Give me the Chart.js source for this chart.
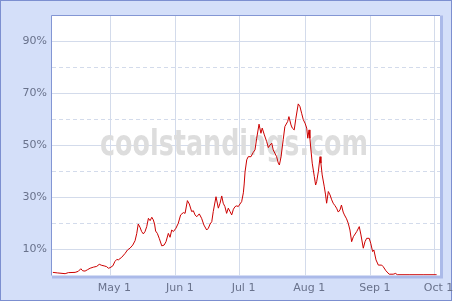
<!DOCTYPE html>
<html lang="en">
<head>
<meta charset="UTF-8">
<title>Playoff odds</title>
<script src="https://cdn.jsdelivr.net/npm/chart.js"></script>
<style>
  body { margin: 0; background: #fff; }
</style>
</head>
<body>
<canvas id="chart" width="454" height="304"></canvas>
<script>
  // days counted from Apr 1, odds in percent
  const days = [2.9, 5.0, 8.7, 10.2, 13.4, 14.9, 16.1, 17.0, 18.1, 19.2, 20.5, 22.0, 23.6, 24.8, 26.0, 27.1, 28.3, 29.1, 29.9, 31.2,
    32.2, 33.1, 33.8, 35.4, 37.0, 38.1, 39.3, 40.6, 41.7, 42.5, 43.2, 44.0, 44.8, 45.6, 46.4, 47.2, 48.0, 48.8, 49.6, 50.3,
    50.9, 51.4, 52.2, 53.1, 54.3, 55.4, 56.3, 57.4, 58.2, 59.0, 59.8, 61.0, 62.1, 63.2, 64.5, 65.3, 66.4, 67.3, 68.4, 69.2,
    70.0, 70.8, 72.0, 73.1, 74.2, 75.5, 76.3, 77.1, 77.9, 78.6, 79.9, 81.0, 81.8, 82.6, 83.3, 84.1, 84.9, 85.7, 86.5, 87.3,
    88.1, 88.9, 89.7, 90.4, 91.2, 92.0, 92.8, 93.2, 93.6, 94.4, 95.1, 96.4, 97.5, 98.3, 99.1, 100.2, 101.1, 101.7, 102.7, 103.8,
    104.6, 105.4, 106.2, 106.9, 107.7, 108.5, 109.3, 109.8, 110.6, 111.6, 112.4, 113.7, 114.3, 115.3, 115.9, 116.8, 117.6, 118.7, 119.5, 120.3,
    121.1, 121.9, 122.7, 123.2, 123.8, 124.2, 124.7, 125.3, 126.3, 126.9, 127.4, 128.2, 129.0, 129.4, 130.0, 131.0, 131.6, 132.1, 132.9, 133.7,
    134.5, 135.2, 136.0, 136.8, 137.6, 138.4, 139.1, 139.9, 140.5, 141.5, 142.3, 143.1, 143.9, 144.7, 146.3, 147.5, 148.3, 149.4, 150.2, 151.0,
    152.2, 152.9, 153.8, 154.4, 155.4, 156.5, 158.1, 158.8, 160.1, 161.6, 163.5, 164.7, 165.4, 171.4, 178.0, 184.0];
  const odds = [1.2, 1.0, 0.7, 1.1, 1.2, 1.6, 2.6, 1.8, 1.7, 2.2, 2.8, 3.2, 3.5, 4.3, 3.9, 3.7, 3.4, 2.8, 3.0, 3.7,
    5.4, 6.2, 6.0, 7.0, 8.5, 9.8, 10.5, 11.7, 13.4, 16.2, 19.8, 18.6, 16.9, 16.0, 16.9, 18.8, 22.0, 21.1, 22.4, 21.4,
    19.8, 17.1, 16.2, 14.3, 11.4, 11.7, 13.0, 16.2, 14.7, 17.5, 16.9, 18.2, 20.1, 23.3, 24.2, 23.9, 28.8, 27.5, 24.6, 24.9,
    23.3, 22.6, 23.7, 22.0, 19.4, 17.5, 18.2, 19.8, 20.7, 24.6, 30.3, 25.9, 27.8, 30.6, 27.8, 26.5, 23.9, 25.9, 24.6, 23.3,
    25.5, 26.5, 26.8, 26.5, 27.5, 28.4, 31.8, 35.2, 39.8, 44.5, 45.7, 45.7, 47.4, 48.3, 52.8, 58.2, 54.7, 56.7, 54.1, 51.5,
    49.2, 50.2, 50.9, 48.3, 47.0, 45.7, 43.2, 42.5, 45.7, 52.2, 57.3, 59.2, 61.1, 57.9, 56.7, 56.0, 60.5, 66.0, 65.0, 62.4,
    59.9, 58.6, 56.7, 52.8, 56.0, 52.8, 48.3, 43.2, 38.0, 34.8, 36.1, 40.0, 45.7, 43.2, 38.7, 34.1, 31.0, 27.8, 32.3, 31.0,
    29.1, 27.8, 26.9, 25.9, 24.4, 25.2, 27.1, 24.4, 23.3, 21.8, 20.1, 17.5, 13.0, 14.9, 16.9, 18.8, 15.6, 10.5, 13.0, 14.3,
    14.3, 12.4, 9.2, 9.8, 6.0, 4.0, 4.0, 3.4, 1.8, 0.5, 0.5, 0.8, 0.3, 0.3, 0.3, 0.3];

  const monthDays = [30, 61, 91, 122, 153, 183];
  const monthLabels = ['May 1', 'Jun 1', 'Jul 1', 'Aug 1', 'Sep 1', 'Oct 1'];
  const xMin = 2.5, xMax = 185.6;

  const gridColor = '#d3dbeb';
  const labelColor = '#69728c';

  const frame = {
    id: 'frame',
    beforeDraw(chart) {
      const ctx = chart.ctx, a = chart.chartArea;
      ctx.save();
      ctx.fillStyle = '#fff';
      ctx.fillRect(0, 0, chart.width, chart.height);
      ctx.fillStyle = '#d4dff9';
      ctx.fillRect(0, 0, 452, 301);
      ctx.strokeStyle = '#7c8fd0';
      ctx.lineWidth = 1;
      ctx.strokeRect(0.5, 0.5, 451, 300);
      // shadow on right / bottom
      ctx.fillStyle = '#abbae9';
      ctx.fillRect(a.left, a.top, a.right - a.left + 3, a.bottom - a.top + 3);
      ctx.fillStyle = '#fff';
      ctx.fillRect(a.left, a.top, a.right - a.left, a.bottom - a.top);
      ctx.restore();
    },
    beforeDatasetsDraw(chart) {
      const ctx = chart.ctx, a = chart.chartArea;
      ctx.save();
      // watermark
      const txt = 'coolstandings.com';
      ctx.font = 'bold 36px "DejaVu Sans"';
      const w = ctx.measureText(txt).width;
      ctx.translate(100, 155);
      ctx.scale(268 / w, 1);
      ctx.fillStyle = '#dddddd';
      ctx.fillText(txt, 0, 0);
      ctx.restore();
      ctx.save();
      ctx.strokeStyle = '#8396d4';
      ctx.lineWidth = 1;
      ctx.beginPath();
      ctx.moveTo(Math.round(a.left) - 0.5, a.bottom);
      ctx.lineTo(Math.round(a.left) - 0.5, Math.round(a.top) - 0.5);
      ctx.lineTo(a.right, Math.round(a.top) - 0.5);
      ctx.stroke();
      ctx.restore();
    }
  };

  new Chart(document.getElementById('chart'), {
    type: 'line',
    data: {
      datasets: [{
        data: days.map((d, i) => ({ x: d, y: odds[i] })),
        borderColor: '#cc0000',
        borderWidth: 1,
        pointRadius: 0,
        tension: 0,
        fill: false
      }]
    },
    options: {
      responsive: false,
      animation: false,
      layout: { padding: { left: 0, top: 15.5, right: 14, bottom: 0 } },
      plugins: { legend: { display: false }, tooltip: { enabled: false } },
      scales: {
        x: {
          type: 'linear',
          min: xMin,
          max: xMax,
          afterBuildTicks: s => { s.ticks = monthDays.map(v => ({ value: v })); },
          afterFit: s => { s.height = 28.5; s.paddingLeft = 0; s.paddingRight = 0; },
          ticks: {
            autoSkip: false,
            maxRotation: 0,
            padding: 6,
            labelOffset: 4,
            color: labelColor,
            font: { family: 'DejaVu Sans', size: 11 },
            callback: (v, i) => monthLabels[i]
          },
          grid: { color: gridColor, drawTicks: false },
          border: { display: false }
        },
        y: {
          min: 0,
          max: 100,
          afterFit: s => { s.width = 52; },
          ticks: {
            stepSize: 10,
            padding: 5,
            color: labelColor,
            font: { family: 'DejaVu Sans', size: 11 },
            callback: v => (v % 20 === 10 ? v + '%' : '')
          },
          grid: {
            drawTicks: false,
            color: c => (c.tick && (c.tick.value === 0 || c.tick.value === 100)) ? 'rgba(0,0,0,0)' : gridColor
          },
          border: {
            display: false,
            dash: c => (c.tick && c.tick.value % 20 === 0) ? [4, 3] : []
          }
        }
      }
    },
    plugins: [frame]
  });
</script>
</body>
</html>
